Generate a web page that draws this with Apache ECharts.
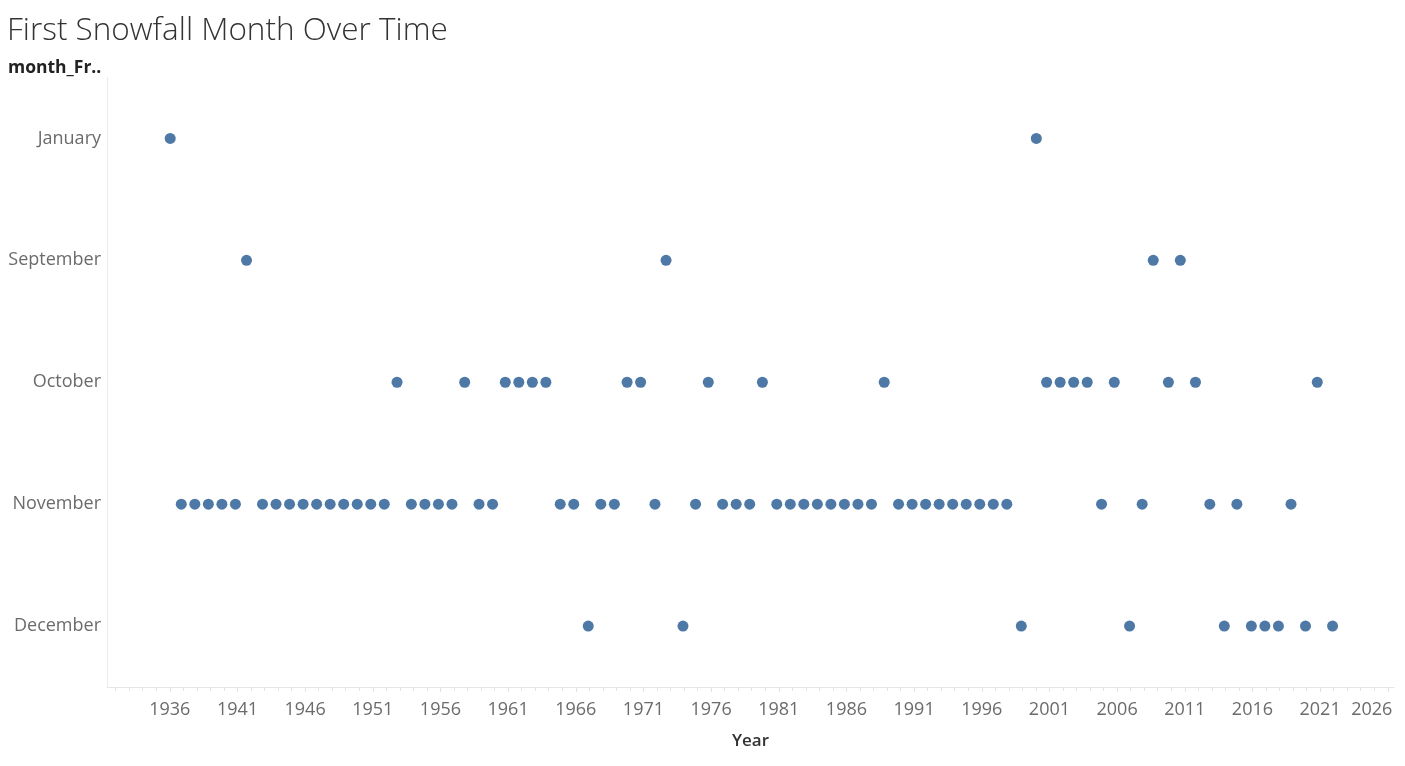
<!DOCTYPE html>
<html>
<head>
<meta charset="utf-8">
<script src="https://cdn.jsdelivr.net/npm/echarts@6/dist/echarts.min.js"></script>
<style>
  html, body { margin: 0; padding: 0; background: #ffffff; }
  #chart { width: 1405px; height: 766px; }
</style>
</head>
<body>
<div id="chart"></div>
<script>
// ---- data ----
const monthCategories = ['January', 'September', 'October', 'November', 'December'];
// where in the year each month's marks sit (fraction of a year)
const monthPositionInYear = { January: 0.03, September: 0.67, October: 0.79, November: 0.85, December: 0.92 };

const januaryYears = [1936, 2000];
const septemberYears = [1941, 1972, 2008, 2010];
const octoberYears = [1952, 1957, 1960, 1961, 1962, 1963, 1969, 1970, 1975, 1979, 1988,
  2000, 2001, 2002, 2003, 2005, 2009, 2011, 2020];
const novemberYears = [1936, 1937, 1938, 1939, 1940, 1942, 1943, 1944, 1945, 1946, 1947, 1948,
  1949, 1950, 1951, 1953, 1954, 1955, 1956, 1958, 1959, 1964, 1965, 1967, 1968, 1971, 1974,
  1976, 1977, 1978, 1980, 1981, 1982, 1983, 1984, 1985, 1986, 1987, 1989, 1990, 1991, 1992,
  1993, 1994, 1995, 1996, 1997, 2004, 2007, 2012, 2014, 2018];
const decemberYears = [1966, 1973, 1998, 2006, 2013, 2015, 2016, 2017, 2019, 2021];

const xTickLabels = [1936, 1941, 1946, 1951, 1956, 1961, 1966, 1971, 1976, 1981, 1986, 1991,
  1996, 2001, 2006, 2011, 2016, 2021, 2026];
const xMinorTicks = [];
for (let y = 1932; y <= 2026; y++) xMinorTicks.push(y);

const xMin = 1931.36;
const xMax = 2026.46;

// ---- build points ----
const yearsByMonth = {
  January: januaryYears,
  September: septemberYears,
  October: octoberYears,
  November: novemberYears,
  December: decemberYears
};
const points = [];
monthCategories.forEach(function (m) {
  yearsByMonth[m].forEach(function (y) {
    points.push([y + monthPositionInYear[m], m]);
  });
});

const FONT = "'Open Sans', 'Noto Sans', sans-serif";
const chart = echarts.init(document.getElementById('chart'), null, { renderer: 'canvas' });
chart.setOption({
  animation: false,
  backgroundColor: '#ffffff',
  title: [
    {
      text: 'First Snowfall Month Over Time',
      left: 7, top: 15, padding: 0,
      textStyle: { fontFamily: FONT, fontWeight: 300, fontSize: 31.5, color: '#333333' }
    },
    {
      text: 'month_Fr..',
      left: 8, top: 59, padding: 0,
      textStyle: { fontFamily: FONT, fontWeight: 'bold', fontSize: 17.5, color: '#222222' }
    }
  ],
  grid: { left: 107, right: 11, top: 77.5, bottom: 79, containLabel: false },
  xAxis: [
    {
      type: 'value',
      min: xMin, max: xMax,
      name: 'Year',
      nameLocation: 'middle',
      nameGap: 46,
      nameTextStyle: { fontFamily: FONT, fontSize: 17, fontWeight: 600, color: '#333333' },
      axisLine: { show: true, lineStyle: { color: '#e6e6e6', width: 1 } },
      axisTick: { show: true, customValues: xTickLabels, length: 5, lineStyle: { color: '#dcdcdc' } },
      axisLabel: {
        customValues: xTickLabels,
        margin: 14,
        fontFamily: FONT, fontSize: 18, color: '#6b6b6b',
        showMaxLabel: true,
        formatter: function (v) {
          return v === 2026 ? '{last|' + v + '}' : String(v);
        },
        rich: {
          last: { fontFamily: FONT, fontSize: 18, color: '#6b6b6b', padding: [0, 32, 0, 0] }
        }
      },
      splitLine: { show: false }
    },
    {
      type: 'value',
      min: xMin, max: xMax,
      position: 'bottom',
      axisLine: { show: false },
      axisTick: { show: true, customValues: xMinorTicks, length: 4, lineStyle: { color: '#e3e3e3' } },
      axisLabel: { show: false },
      splitLine: { show: false }
    }
  ],
  yAxis: {
    type: 'category',
    data: monthCategories,
    inverse: true,
    axisLine: { show: true, lineStyle: { color: '#ececec', width: 1 } },
    axisTick: { show: false },
    axisLabel: { margin: 6, padding: [4, 0, 0, 0], fontFamily: FONT, fontSize: 18, color: '#6b6b6b' },
    splitLine: { show: false }
  },
  series: [
    {
      type: 'scatter',
      xAxisIndex: 0,
      data: points,
      symbol: 'circle',
      symbolSize: 11,
      itemStyle: { color: '#4e79a7', opacity: 1 }
    }
  ]
});
</script>
</body>
</html>
